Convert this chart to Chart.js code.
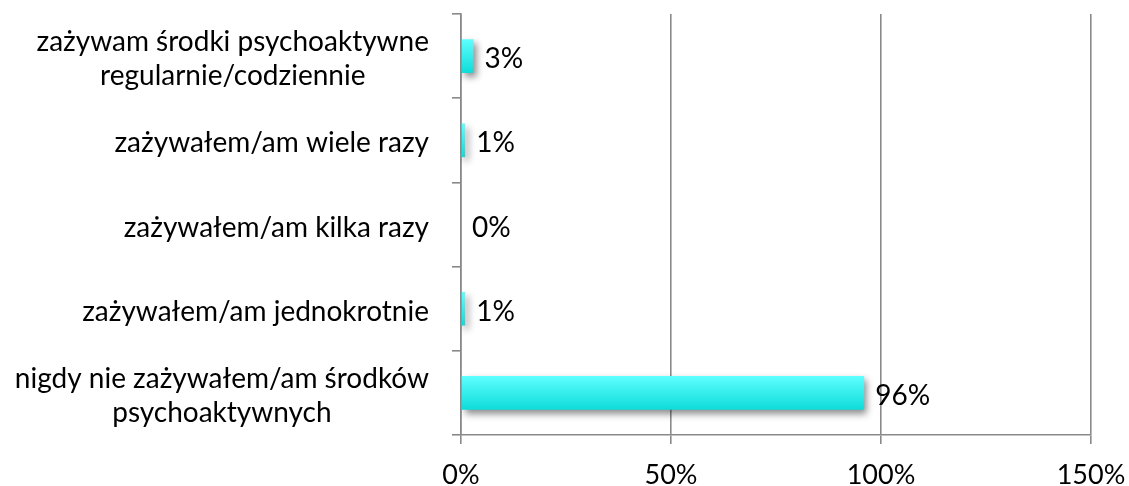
<!DOCTYPE html>
<html lang="pl">
<head>
    <meta charset="UTF-8">
    <title>Zażywanie środków psychoaktywnych</title>
    <script src="https://cdn.jsdelivr.net/npm/chart.js@4/dist/chart.umd.min.js"></script>
    <style>
        html, body {
            margin: 0;
            padding: 0;
            background: #ffffff;
        }
        .chart-box {
            width: 1129px;
            height: 486px;
        }
    </style>
</head>
<body>
    <div class="chart-box">
        <canvas id="drugsChart"></canvas>
    </div>

    <script>
        // answers, top to bottom
        const categories = [
            ['zażywam środki psychoaktywne', 'regularnie/codziennie'],
            ['zażywałem/am wiele razy'],
            ['zażywałem/am kilka razy'],
            ['zażywałem/am jednokrotnie'],
            ['nigdy nie zażywałem/am środków', 'psychoaktywnych']
        ];
        const percentages = [3, 1, 0, 1, 96];
        const axisTicks = [0, 50, 100, 150];

        const FONT = 'Lato, "Open Sans", sans-serif';
        const GRID = '#8a8a8a';
        const BAR_SHARE = 0.4;

        // vertical cyan gradient per bar, built from the category scale
        function barGradient(ctx) {
            const chart = ctx.chart;
            const y = chart.scales.y;
            if (!y || y.height == null) return '#2ee8e8';
            const mid = y.getPixelForValue(ctx.dataIndex);
            const h = (y.height / categories.length) * BAR_SHARE;
            const g = chart.ctx.createLinearGradient(0, mid - h / 2, 0, mid + h / 2);
            g.addColorStop(0, '#5effff');
            g.addColorStop(1, '#0edcd9');
            return g;
        }

        // soft drop shadow under bars
        const barShadow = {
            id: 'barShadow',
            beforeDatasetsDraw(chart) {
                const c = chart.ctx;
                c.save();
                c.shadowColor = 'rgba(0,0,0,0.45)';
                c.shadowBlur = 7;
                c.shadowOffsetX = 3;
                c.shadowOffsetY = 4;
            },
            afterDatasetsDraw(chart) {
                chart.ctx.restore();
            }
        };

        // category labels: block right-aligned, lines centred within it
        const categoryLabels = {
            id: 'categoryLabels',
            afterDraw(chart) {
                const c = chart.ctx;
                const y = chart.scales.y;
                const right = y.right - 32;
                const lineH = 34;
                c.save();
                c.font = '28px ' + FONT;
                c.fillStyle = '#000';
                c.textAlign = 'center';
                c.textBaseline = 'middle';
                categories.forEach((lines, i) => {
                    const w = Math.max(...lines.map(l => c.measureText(l).width));
                    const cx = right - w / 2;
                    const mid = y.getPixelForValue(i) + 3;
                    const top = mid - (lines.length - 1) * lineH / 2;
                    lines.forEach((l, k) => c.fillText(l, cx, top + k * lineH));
                });
                c.restore();
            }
        };

        // value labels at the end of each bar
        const valueLabels = {
            id: 'valueLabels',
            afterDatasetsDraw(chart) {
                const c = chart.ctx;
                const meta = chart.getDatasetMeta(0);
                c.save();
                c.font = '28px ' + FONT;
                c.fillStyle = '#000';
                c.textAlign = 'left';
                c.textBaseline = 'middle';
                meta.data.forEach((bar, i) => {
                    c.fillText(percentages[i] + '%', bar.x + 11, bar.y + 3);
                });
                c.restore();
            }
        };

        new Chart(document.getElementById('drugsChart'), {
            type: 'bar',
            data: {
                labels: categories.map(l => l.join(' ')),
                datasets: [{
                    data: percentages,
                    backgroundColor: barGradient,
                    borderWidth: 0,
                    categoryPercentage: 1,
                    barPercentage: BAR_SHARE
                }]
            },
            options: {
                indexAxis: 'y',
                responsive: true,
                maintainAspectRatio: false,
                animation: false,
                layout: {
                    padding: { top: 14, right: 38, left: 0, bottom: 0 }
                },
                plugins: {
                    legend: { display: false },
                    tooltip: { enabled: false }
                },
                scales: {
                    x: {
                        min: 0,
                        max: 150,
                        afterBuildTicks: s => { s.ticks = axisTicks.map(v => ({ value: v })); },
                        afterFit: s => {
                            s.height = 51;
                            s.paddingLeft = 0;
                            s.paddingRight = 0;
                        },
                        grid: {
                            color: GRID,
                            lineWidth: 1.6,
                            drawTicks: true,
                            tickLength: 9
                        },
                        border: { color: GRID, width: 1.6 },
                        ticks: {
                            color: '#000',
                            padding: 15,
                            font: { family: FONT, size: 27 },
                            callback: v => v + '%'
                        }
                    },
                    y: {
                        afterFit: s => { s.width = 461; },
                        grid: {
                            offset: true,
                            drawOnChartArea: false,
                            drawTicks: true,
                            tickLength: 9,
                            color: GRID,
                            lineWidth: 1.6
                        },
                        border: { color: GRID, width: 1.6 },
                        ticks: { display: false }
                    }
                }
            },
            plugins: [barShadow, valueLabels, categoryLabels]
        });
    </script>
</body>
</html>
